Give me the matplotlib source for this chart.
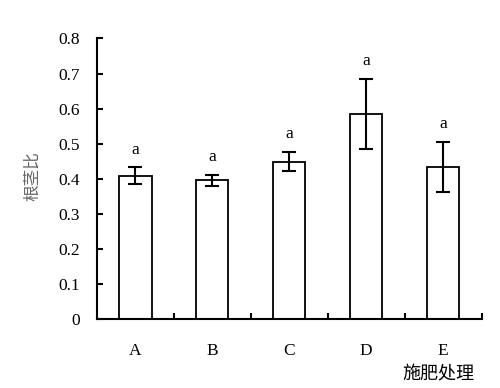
import matplotlib.pyplot as plt
import numpy as np

# data
groups = ["A", "B", "C", "D", "E"]
ratio = [0.409, 0.396, 0.449, 0.585, 0.434]
err = [0.024, 0.015, 0.028, 0.100, 0.072]
letters = ["a", "a", "a", "a", "a"]
yticks = [0, 0.1, 0.2, 0.3, 0.4, 0.5, 0.6, 0.7, 0.8]
ytick_labels = ["0", "0.1", "0.2", "0.3", "0.4", "0.5", "0.6", "0.7", "0.8"]

plt.rcParams["font.family"] = ["Liberation Serif", "Noto Sans CJK SC"]

fig = plt.figure(figsize=(5, 3.88), dpi=100)
ax = fig.add_axes([0.194, 0.177, 0.769, 0.724])

x = np.arange(len(groups))
ax.bar(x, ratio, width=0.42, color="white", edgecolor="black", linewidth=1.3, zorder=2)
ax.errorbar(x, ratio, yerr=err, fmt="none", ecolor="black", elinewidth=1.5,
            capsize=5, capthick=1.5, zorder=3)

# significance letters
for xi, v, e, t in zip(x, ratio, err, letters):
    ax.annotate(t, (xi, v + e), xytext=(0, 7), textcoords="offset points",
                ha="center", va="bottom", fontsize=12.5)

ax.set_xlim(-0.5, 4.5)
ax.set_ylim(0, 0.8)
ax.set_yticks(yticks)
ax.set_yticklabels(ytick_labels, fontsize=12.5)
ax.set_xticks(x)
ax.set_xticklabels(groups, fontsize=12.5)
ax.set_xticks(np.arange(0.5, 5, 1), minor=True)
ax.tick_params(axis="x", which="major", length=0, pad=17)
ax.tick_params(axis="x", which="minor", direction="in", length=4, width=1.5)
ax.tick_params(axis="y", which="both", direction="in", length=4, width=1.5, pad=12)

for s in ["top", "right"]:
    ax.spines[s].set_visible(False)
for s in ["left", "bottom"]:
    ax.spines[s].set_linewidth(1.5)

fig.text(0.066, 0.545, "根茎比", rotation=90, ha="center", va="center",
         fontsize=12, color="#666666", family=["Noto Sans CJK SC"])
fig.text(0.876, 0.035, "施肥处理", ha="center", va="center", fontsize=13,
         family=["Noto Sans CJK SC"])

fig.savefig("out.png", dpi=100)
